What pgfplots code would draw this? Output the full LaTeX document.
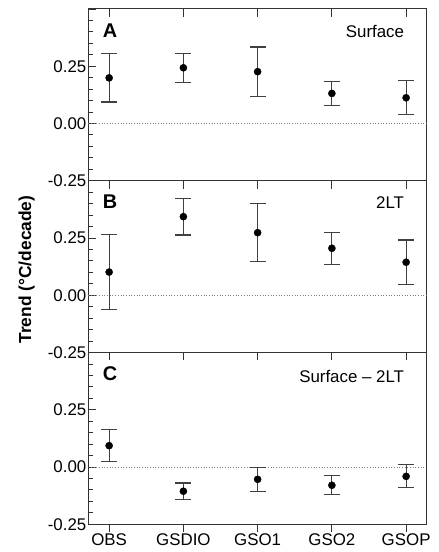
\documentclass[border=0pt]{standalone}
\usepackage{fontspec}
\setmainfont{Liberation Sans}
\usepackage{pgfplots}
\pgfplotsset{compat=1.18}

\pgfplotsset{
  panel/.style={
    scale only axis, width=341pt, height=173pt,
    xmin=-0.28, xmax=4.28, ymin=-0.25, ymax=0.5,
    xtick={0,1,2,3,4}, xticklabels={},
    xtick pos=top, xtick align=inside,
    ytick={-0.25,0,0.25,0.5}, yticklabels={-0.25,0.00,0.25,{}},
    minor ytick={-0.2,-0.15,-0.1,-0.05,0.05,0.1,0.15,0.2,0.3,0.35,0.4,0.45},
    ytick pos=left, ytick align=inside,
    major tick length=8pt, minor tick length=5pt,
    tick style={black!80, line width=0.8pt},
    axis line style={black!80, line width=0.9pt},
    tick label style={font=\fontsize{17}{20}\selectfont},
    yticklabel style={xshift=1.5pt},
    clip=false,
  },
  zeroline/.style={gray, dotted, line width=0.7pt},
  trend/.style={black, mark=*, mark size=3.6pt, only marks,
    error bars/.cd, y dir=both, y explicit,
    error bar style={black!75, line width=1.2pt},
    error mark options={rotate=90, mark size=8pt, black!75, line width=1.2pt}},
}
\tikzset{
  tag/.style={font=\bfseries\fontsize{20}{23}\selectfont},
  note/.style={anchor=east, inner sep=0pt, font=\fontsize{17}{20}\selectfont},
}

\begin{document}
\begin{tikzpicture}
% A: surface trends
\begin{axis}[panel, at={(0pt,0pt)}]
\addplot[zeroline] coordinates {(-0.28,0) (4.28,0)};
\addplot[trend] coordinates {
  (0,0.199) +- (0,0.105)
  (1,0.243) +- (0,0.064)
  (2,0.226) +- (0,0.108)
  (3,0.131) +- (0,0.052)
  (4,0.112) +- (0,0.074)
};
\node[tag] at (rel axis cs:0.064,0.876) {A};
\node[note] at (rel axis cs:0.933,0.87) {Surface};
\end{axis}

% B: 2LT trends
\begin{axis}[panel, at={(0pt,-173pt)}]
\addplot[zeroline] coordinates {(-0.28,0) (4.28,0)};
\addplot[trend] coordinates {
  (0,0.101) +- (0,0.163)
  (1,0.343) +- (0,0.080)
  (2,0.273) +- (0,0.127)
  (3,0.205) +- (0,0.070)
  (4,0.144) +- (0,0.097)
};
\node[tag] at (rel axis cs:0.064,0.876) {B};
\node[note] at (rel axis cs:0.933,0.875) {2LT};
\node[rotate=90, font=\bfseries\fontsize{17.5}{20}\selectfont]
  at (rel axis cs:-0.182,0.483) {Trend (°C/decade)};
\end{axis}

% C: difference
\begin{axis}[panel, at={(0pt,-346pt)}]
\addplot[zeroline] coordinates {(-0.28,0) (4.28,0)};
\addplot[trend] coordinates {
  (0,0.093) +- (0,0.069)
  (1,-0.106) +- (0,0.036)
  (2,-0.054) +- (0,0.053)
  (3,-0.080) +- (0,0.042)
  (4,-0.041) +- (0,0.050)
};
\node[tag] at (rel axis cs:0.064,0.876) {C};
\node[note] at (rel axis cs:0.933,0.86) {Surface -- 2LT};
\end{axis}

% bottom ticks and category names
\begin{axis}[panel, at={(0pt,-346pt)},
  xtick pos=bottom, xtick align=outside,
  xticklabels={OBS,GSDIO,GSO1,GSO2,GSOP},
  xticklabel style={inner ysep=1pt},
  ytick=\empty, minor ytick={}]
\addplot[draw=none] coordinates {(0,0)};
\end{axis}

\pgfresetboundingbox
\path[use as bounding box] (-89pt,182pt) rectangle (353pt,-374pt);
\end{tikzpicture}
\end{document}
